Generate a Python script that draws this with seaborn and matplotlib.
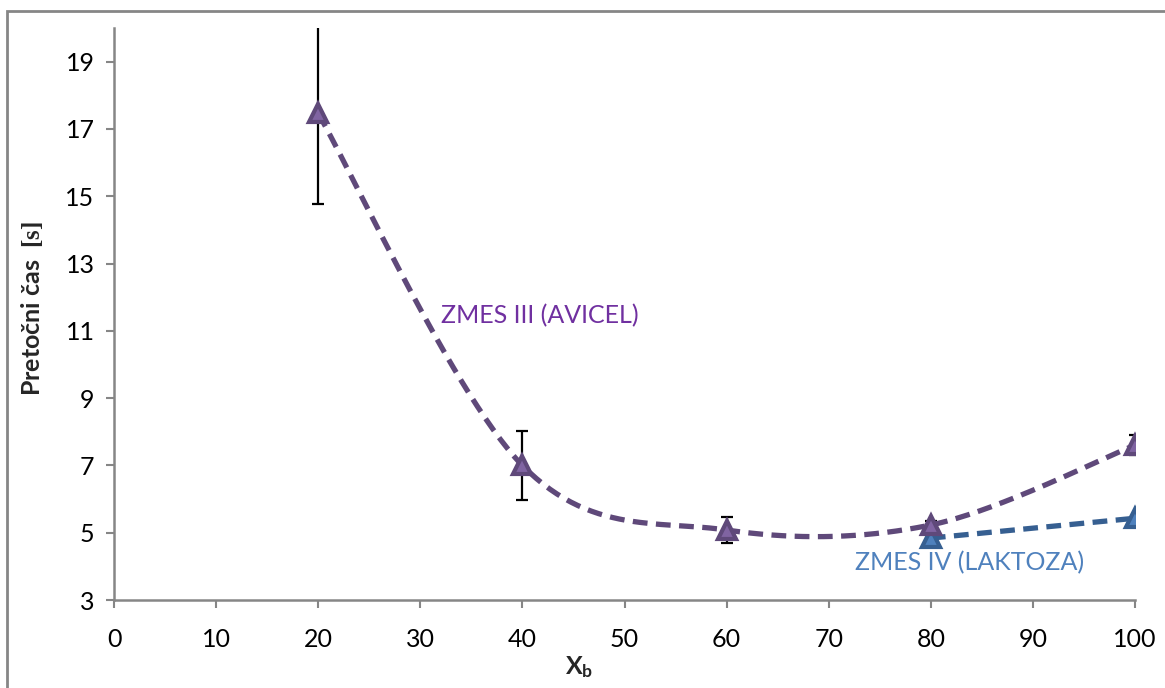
import numpy as np
import pandas as pd
import matplotlib
matplotlib.use("Agg")
import matplotlib.pyplot as plt
from matplotlib.patches import Rectangle
import seaborn as sns

# ---- data ----
x_avicel = [20, 40, 60, 80, 100]
y_avicel = [17.46, 7.0, 5.08, 5.23, 7.6]
err_avicel = [2.7, 1.03, 0.4, 0.12, 0.3]

x_laktoza = [80, 100]
y_laktoza = [4.84, 5.43]

x_ticks = list(range(0, 101, 10))
y_ticks = list(range(3, 20, 2))

sns.set_theme(style="white")
plt.rcParams['font.family'] = ['Lato', 'DejaVu Sans']
plt.rcParams['mathtext.fontset'] = 'custom'
plt.rcParams['mathtext.rm'] = 'Liberation Serif:bold'
plt.rcParams['mathtext.bf'] = 'Lato:bold'


def smooth(xs, ys, n=60):
    """Excel-like smoothed line (Bezier through points)."""
    P = np.column_stack([xs, ys]).astype(float)
    out = []
    m = len(P)
    for i in range(m - 1):
        p0 = P[i]
        p3 = P[i + 1]
        pm = P[i - 1] if i > 0 else P[i]
        pp = P[i + 2] if i + 2 < m else P[i + 1]
        c1 = p0 + (p3 - pm) / 6.0
        c2 = p3 - (pp - p0) / 6.0
        t = np.linspace(0, 1, n)[:, None]
        seg = ((1 - t) ** 3) * p0 + 3 * ((1 - t) ** 2) * t * c1 + 3 * (1 - t) * t ** 2 * c2 + t ** 3 * p3
        out.append(seg if i == 0 else seg[1:])
    arr = np.vstack(out)
    return arr[:, 0], arr[:, 1]


fig = plt.figure(figsize=(11.65, 6.88), dpi=100)
ax = fig.add_axes([114 / 1165, 1 - 600 / 688, (1135 - 114) / 1165, (600 - 28) / 688])

purple_line = '#5F497A'
purple_fill = '#8064A2'
blue_line = '#365F91'
blue_fill = '#4F81BD'
FS = 18

# error bars
ax.errorbar(x_avicel, y_avicel, yerr=err_avicel, fmt='none', ecolor='black',
            elinewidth=1.6, capsize=4.5, capthick=1.6, zorder=2)

# smoothed curves
sx, sy = smooth(x_avicel, y_avicel)
df_a = pd.DataFrame({'x': sx, 'y': sy})
sns.lineplot(data=df_a, x='x', y='y', ax=ax, color=purple_line, lw=3.8,
             sort=False, zorder=3)
ax.lines[-1].set_dashes((2.8, 1.6))

lx, ly = smooth(x_laktoza, y_laktoza)
df_l = pd.DataFrame({'x': lx, 'y': ly})
sns.lineplot(data=df_l, x='x', y='y', ax=ax, color=blue_line, lw=3.8,
             sort=False, zorder=3)
ax.lines[-1].set_dashes((2.8, 1.6))

# markers
ax.plot(x_laktoza, y_laktoza, linestyle='none', marker='^', markersize=13.5,
        markerfacecolor=blue_fill, markeredgecolor=blue_line, markeredgewidth=3, zorder=4)
ax.plot(x_avicel, y_avicel, linestyle='none', marker='^', markersize=13.5,
        markerfacecolor=purple_fill, markeredgecolor=purple_line, markeredgewidth=3, zorder=5)

# series labels
ax.text(41.7, 11.46, 'ZMES III (AVICEL)', color='#7030A0', fontsize=FS,
        ha='center', va='center')
ax.text(83.8, 4.1, 'ZMES IV (LAKTOZA)', color='#4F81BD', fontsize=FS,
        ha='center', va='center')

ax.set_xlim(0, 100)
ax.set_ylim(3, 20)
ax.set_xticks(x_ticks)
ax.set_yticks(y_ticks)
ax.tick_params(axis='both', which='both', direction='out', length=6, width=1.5,
               color='#868686', labelsize=FS, labelcolor='black', pad=8,
               left=True, bottom=True)
ax.tick_params(axis='x', pad=14)
for s in ['top', 'right']:
    ax.spines[s].set_visible(False)
for s in ['left', 'bottom']:
    ax.spines[s].set_color('#868686')
    ax.spines[s].set_linewidth(1.8)
ax.grid(False)

ax.set_xlabel(r'$\mathbf{X_b}$', fontsize=FS)
ax.set_ylabel(r'Pretočni čas  $\mathrm{[s]}$', fontsize=FS, fontweight='bold')
ax.xaxis.set_label_coords(0.456, -0.095)
ax.yaxis.set_label_coords(-0.068, 0.51)

# outer chart frame (left and top visible)
fig.patches.append(Rectangle((7 / 1165, -0.1), 1.2, (688 - 11) / 688 + 0.1,
                             transform=fig.transFigure, fill=False,
                             edgecolor='#868686', linewidth=2.0))

fig.savefig('out.png', dpi=100)
